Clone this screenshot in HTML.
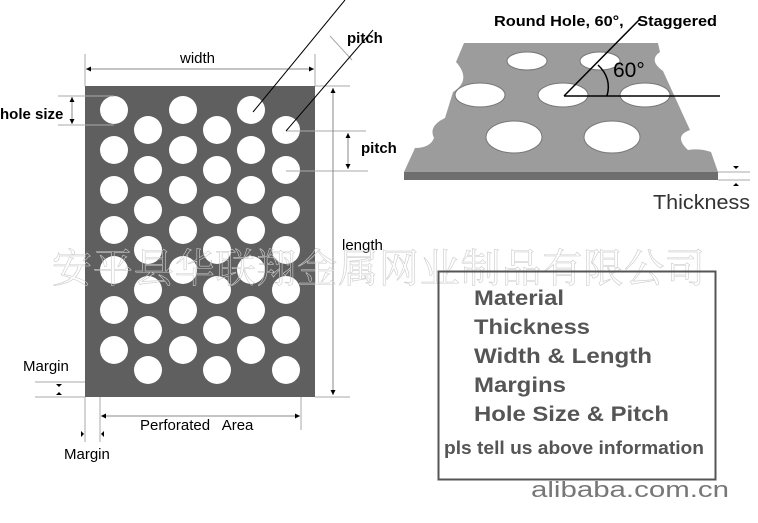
<!DOCTYPE html>
<html><head><meta charset="utf-8"><style>
html,body{margin:0;padding:0;background:#fff;width:758px;height:523px;overflow:hidden}
svg{display:block}
text{font-family:"Liberation Sans",Arial,sans-serif}
</style></head><body>
<svg width="758" height="523" viewBox="0 0 758 523" xmlns="http://www.w3.org/2000/svg">
<defs>
<marker id="a" viewBox="0 0 6 6" refX="6" refY="3" markerWidth="5" markerHeight="5" orient="auto-start-reverse"><path d="M0,0L6,3L0,6z" fill="#000"/></marker>
</defs>
<rect x="85" y="86" width="230" height="311" fill="#5f5f5f"/>
<g fill="#fff">
<circle cx="114" cy="110" r="14"/><circle cx="183" cy="110" r="14"/><circle cx="251" cy="110" r="14"/>
<circle cx="114" cy="150" r="14"/><circle cx="183" cy="150" r="14"/><circle cx="251" cy="150" r="14"/>
<circle cx="114" cy="190" r="14"/><circle cx="183" cy="190" r="14"/><circle cx="251" cy="190" r="14"/>
<circle cx="114" cy="230" r="14"/><circle cx="183" cy="230" r="14"/><circle cx="251" cy="230" r="14"/>
<circle cx="114" cy="270" r="14"/><circle cx="183" cy="270" r="14"/><circle cx="251" cy="270" r="14"/>
<circle cx="114" cy="310" r="14"/><circle cx="183" cy="310" r="14"/><circle cx="251" cy="310" r="14"/>
<circle cx="114" cy="350" r="14"/><circle cx="183" cy="350" r="14"/><circle cx="251" cy="350" r="14"/>
<circle cx="148" cy="130" r="14"/><circle cx="217" cy="130" r="14"/><circle cx="286" cy="130" r="14"/>
<circle cx="148" cy="170" r="14"/><circle cx="217" cy="170" r="14"/><circle cx="286" cy="170" r="14"/>
<circle cx="148" cy="210" r="14"/><circle cx="217" cy="210" r="14"/><circle cx="286" cy="210" r="14"/>
<circle cx="148" cy="250" r="14"/><circle cx="217" cy="250" r="14"/><circle cx="286" cy="250" r="14"/>
<circle cx="148" cy="290" r="14"/><circle cx="217" cy="290" r="14"/><circle cx="286" cy="290" r="14"/>
<circle cx="148" cy="330" r="14"/><circle cx="217" cy="330" r="14"/><circle cx="286" cy="330" r="14"/>
<circle cx="148" cy="370" r="14"/><circle cx="217" cy="370" r="14"/><circle cx="286" cy="370" r="14"/>
</g>
<g stroke="#aaa" stroke-width="1" fill="none">
<line x1="85" y1="54" x2="85" y2="86"/><line x1="315" y1="54" x2="315" y2="86"/>
<line x1="315" y1="86" x2="350" y2="86"/><line x1="315" y1="397" x2="350" y2="397"/>
<line x1="58" y1="96" x2="114" y2="96"/><line x1="58" y1="125" x2="114" y2="125"/>
<line x1="286" y1="131" x2="366" y2="131"/><line x1="286" y1="171" x2="368" y2="171"/>
<line x1="35" y1="382" x2="85" y2="382"/><line x1="35" y1="397" x2="85" y2="397"/>
<line x1="85" y1="397" x2="85" y2="442"/><line x1="100" y1="397" x2="100" y2="442"/>
<line x1="301" y1="397" x2="301" y2="430"/>
<line x1="330" y1="36" x2="352" y2="60"/>
</g>
<g stroke="#888" stroke-width="1" marker-start="url(#a)" marker-end="url(#a)">
<line x1="86" y1="69" x2="314" y2="69"/>
<line x1="72" y1="97" x2="72" y2="124"/>
<line x1="348" y1="133" x2="348" y2="169"/>
<line x1="333" y1="88" x2="333" y2="395"/>
<line x1="101" y1="416" x2="300" y2="416"/>
</g>
<g stroke="#000" stroke-width="1">
<line x1="253" y1="112" x2="345" y2="0"/>
<line x1="286" y1="131" x2="373" y2="30"/>
</g>
<g fill="#000">
<path d="M59,387l-3,-3h6z"/><path d="M59,392l-3,3h6z"/>
<path d="M84,434l-3,-3v6z"/><path d="M101,434l3,-3v6z"/>
</g>
<g font-size="15" fill="#000">
<text x="180" y="63">width</text>
<text x="0" y="119" font-weight="bold" font-size="15">hole size</text>
<text x="347" y="43" font-weight="bold" font-size="15">pitch</text>
<text x="361" y="153" font-weight="bold" font-size="15">pitch</text>
<text x="342" y="250">length</text>
<text x="23" y="371">Margin</text>
<text x="140" y="430">Perforated&#160;&#160; Area</text>
<text x="64" y="459">Margin</text>
</g>
<path d="M464,43 L658,43 L660,52 Q648,60 663,71 L690,130 Q673,136 688,150 Q700,148 711,152 L718,172 L404,172 L415,148 Q430,148 434,138 Q428,126 445,118 L453,92 Q472,80 456,62 Z" fill="#9c9c9c"/>
<rect x="404" y="172" width="314" height="8" fill="#6e6e6e"/>
<g fill="#fff" stroke="#777" stroke-width="1">
<ellipse cx="527" cy="61" rx="20" ry="9"/>
<ellipse cx="600" cy="61" rx="20" ry="9"/>
<ellipse cx="480" cy="95" rx="25" ry="12"/>
<ellipse cx="563" cy="95" rx="25" ry="12"/>
<ellipse cx="645" cy="95" rx="25" ry="12"/>
<ellipse cx="514" cy="137" rx="28" ry="16"/>
<ellipse cx="612" cy="137" rx="28" ry="16"/>
</g>
<g stroke="#000" stroke-width="1.5" fill="none">
<line x1="564" y1="96" x2="720" y2="96"/>
<line x1="564" y1="96" x2="639" y2="20"/>
<path d="M598,65 Q612,78 607,96"/>
</g>
<g stroke="#aaa"><line x1="718" y1="172" x2="750" y2="172"/><line x1="718" y1="180" x2="750" y2="180"/></g>
<path d="M736,169l-3,-3h6z M736,183l-3,3h6z" fill="#000"/>
<text x="494" y="26" font-size="15" font-weight="bold" textLength="223" lengthAdjust="spacingAndGlyphs">Round Hole, 60°,&#160;&#160; Staggered</text>
<text x="613" y="77" font-size="21">60°</text>
<text x="653" y="209" font-size="20" fill="#333" textLength="97" lengthAdjust="spacingAndGlyphs">Thickness</text>
<text x="52" y="282" font-size="40" fill="none" stroke="#ccc" stroke-width="0.6" textLength="653" style="font-family:'Noto Serif CJK SC','Noto Sans CJK SC',serif">安平县华联翔金属网业制品有限公司</text>
<rect x="438.5" y="271.5" width="277" height="208" fill="none" stroke="#555" stroke-width="2"/>
<g font-size="21" font-weight="bold" fill="#555" lengthAdjust="spacingAndGlyphs">
<text x="474" y="305" textLength="90" lengthAdjust="spacingAndGlyphs">Material</text>
<text x="474" y="334" textLength="116" lengthAdjust="spacingAndGlyphs">Thickness</text>
<text x="474" y="363" textLength="178" lengthAdjust="spacingAndGlyphs">Width &amp; Length</text>
<text x="474" y="392" textLength="92" lengthAdjust="spacingAndGlyphs">Margins</text>
<text x="474" y="421" textLength="195" lengthAdjust="spacingAndGlyphs">Hole Size &amp; Pitch</text>
<text x="444" y="454" font-size="18" textLength="260" lengthAdjust="spacingAndGlyphs">pls tell us above information</text>
</g>
<text x="531" y="497" font-size="22" fill="#777" textLength="198" lengthAdjust="spacingAndGlyphs">alibaba.com.cn</text>
</svg>
</body></html>
